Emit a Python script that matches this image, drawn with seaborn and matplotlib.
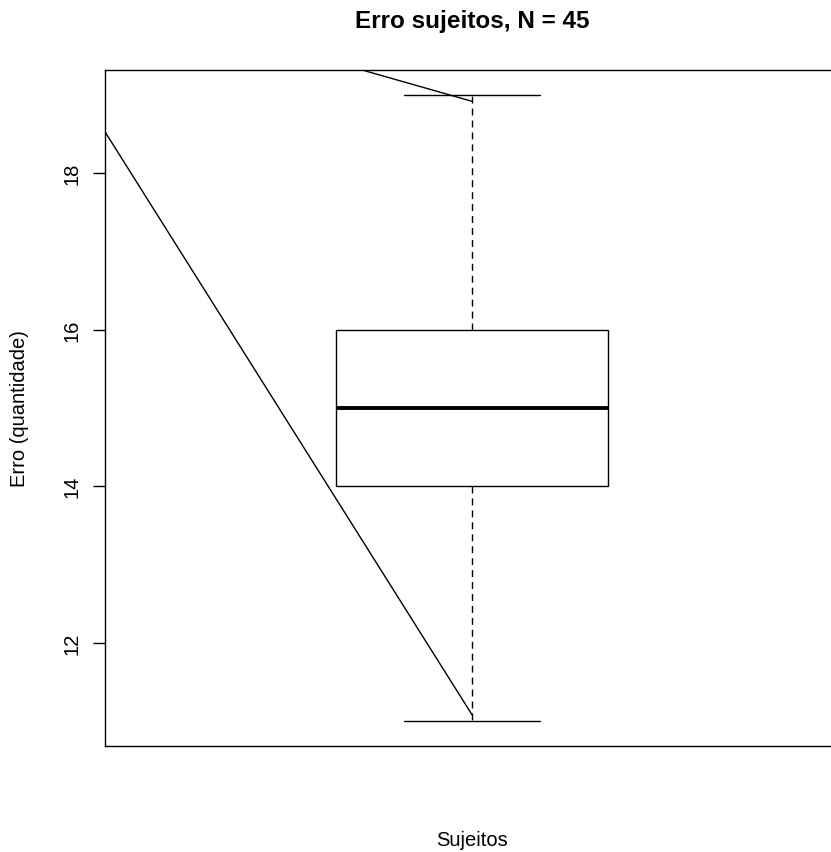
import matplotlib
matplotlib.use("Agg")
import matplotlib.pyplot as plt
import seaborn as sns
import numpy as np

# Data
erro_values = [11, 14, 15, 16, 19]          # min, Q1, median, Q3, max
ytick_values = [12, 14, 16, 18]
line1_x = [-0.5, 0.0]
line1_y = [18.53, 11.08]
line2_x = [-0.146, 0.0]
line2_y = [19.31, 18.92]

sns.set_theme(style="white")
plt.rcParams["font.family"] = ["Liberation Sans", "DejaVu Sans"]
plt.rcParams["text.color"] = "black"
plt.rcParams["axes.labelcolor"] = "black"
plt.rcParams["ytick.color"] = "black"
plt.rcParams["xtick.color"] = "black"

W, H = 831, 853
fig = plt.figure(figsize=(W / 100, H / 100), dpi=100)
ax = fig.add_axes([105 / W, (H - 747) / H, 734 / W, 676 / H])

sns.boxplot(
    y=erro_values, ax=ax, width=0.37, color="white", linecolor="black",
    linewidth=1.0, whis=1.5, saturation=1,
    medianprops=dict(linewidth=2.8, color="black"),
    whiskerprops=dict(linestyle=(0, (5, 3.6)), linewidth=1.0, color="black"),
    capprops=dict(linewidth=1.0, color="black"),
    boxprops=dict(linewidth=1.0, edgecolor="black", facecolor="white"),
)

ax.plot(line1_x, line1_y, color="black", linewidth=1.0)
ax.plot(line2_x, line2_y, color="black", linewidth=1.0)

ax.set_xlim(-0.5, 0.5)
ax.set_ylim(10.68, 19.32)
ax.set_xticks([])
ax.set_yticks(ytick_values)
ax.set_yticklabels([str(v) for v in ytick_values], rotation=90, va="center",
                   fontsize=14.5, color="black")
ax.tick_params(axis="y", left=True, length=8.6, width=1.0, pad=8,
               color="black", labelcolor="black")
ax.set_xlabel("")
ax.set_ylabel("")
for s in ax.spines.values():
    s.set_color("black")
    s.set_linewidth(1.0)

fig.text(472 / W, 1 - 28 / H, "Erro sujeitos, N = 45", ha="center",
         va="baseline", fontsize=17.5, fontweight="bold", color="black")
fig.text(472 / W, 1 - 846 / H, "Sujeitos", ha="center", va="baseline",
         fontsize=14.5, color="black")
fig.text(20 / W, 1 - 409 / H, "Erro (quantidade)", ha="center", va="center",
         rotation=90, fontsize=14.5, color="black")

fig.savefig("out.png", dpi=100, facecolor="white")
